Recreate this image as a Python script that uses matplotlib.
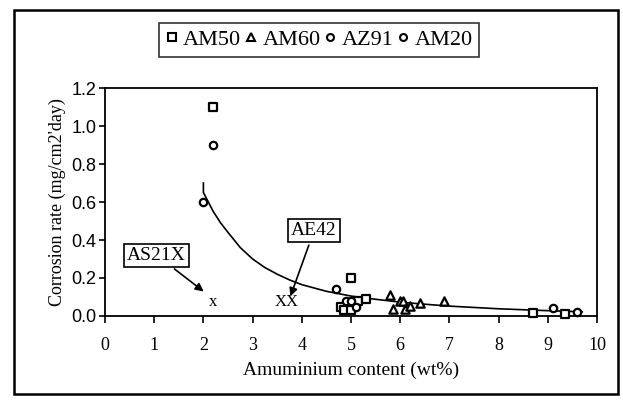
import matplotlib.pyplot as plt
from matplotlib.lines import Line2D
from matplotlib.patches import Rectangle

# corrosion rate (mg/cm2.day) vs aluminium content (wt%)
am50_al = [2.2, 4.8, 4.85, 5.0, 5.0, 5.15, 5.3, 8.7, 9.35]
am50_rate = [1.10, 0.05, 0.03, 0.20, 0.03, 0.08, 0.09, 0.015, 0.01]

am60_al = [5.8, 5.85, 6.0, 6.05, 6.1, 6.2, 6.4, 6.9]
am60_rate = [0.11, 0.035, 0.08, 0.08, 0.035, 0.055, 0.07, 0.08]

az91_al = [4.7, 4.9, 5.0, 5.1, 9.1, 9.6]
az91_rate = [0.14, 0.08, 0.08, 0.045, 0.04, 0.02]

am20_al = [2.0, 2.2]
am20_rate = [0.60, 0.90]

# trend line
fit_al = [2.0, 2.0, 2.1, 2.2, 2.35, 2.5, 2.75, 3.0, 3.25, 3.5, 3.75, 4.0,
          4.5, 5.0, 5.5, 6.0, 6.5, 7.0, 8.0, 9.0, 9.7]
fit_rate = [0.70, 0.65, 0.60, 0.55, 0.49, 0.44, 0.36, 0.30, 0.255, 0.22, 0.19, 0.165,
            0.13, 0.105, 0.088, 0.073, 0.062, 0.052, 0.038, 0.028, 0.022]

# single-point alloys marked with letters
as21x_al, as21x_rate = 2.2, 0.075
ae42_al, ae42_rate = 3.7, 0.075

SERIF = "Liberation Serif"
SANS = "Liberation Sans"

fig = plt.figure(figsize=(6.23, 4.0), dpi=100)
fig.patches.append(Rectangle((14 / 623, 1 - 394 / 400), 604 / 623, 384 / 400,
                             transform=fig.transFigure, fill=False,
                             edgecolor="black", lw=1.8))
ax = fig.add_axes([105 / 623, 1 - 316 / 400, 492 / 623, 228 / 400])

mk = dict(facecolor="white", edgecolor="black", linewidths=1.6, zorder=3, clip_on=False)
ax.scatter(am50_al, am50_rate, marker="s", s=28, **mk)
ax.scatter(am60_al, am60_rate, marker="^", s=36, **mk)
ax.scatter(az91_al, az91_rate, marker="o", s=28, **mk)
ax.scatter(am20_al, am20_rate, marker="o", s=28, **mk)

ax.plot(fit_al, fit_rate, color="black", lw=1.2, zorder=2)

ax.text(as21x_al, as21x_rate, "x", family=SERIF, fontsize=12,
        ha="center", va="center")
ax.text(ae42_al, ae42_rate, "XX", family=SERIF, fontsize=12,
        ha="center", va="center")

box = dict(boxstyle="square,pad=0.15", facecolor="white", edgecolor="black", lw=1.2)
arrow = dict(arrowstyle="-|>", color="black", lw=1.2, mutation_scale=12)
ax.annotate("AS21X", xy=(as21x_al - 0.15, as21x_rate + 0.045), xytext=(1.05, 0.32),
            family=SERIF, fontsize=14, ha="center", va="center",
            bbox=box, arrowprops=arrow)
ax.annotate("AE42", xy=(ae42_al + 0.05, ae42_rate + 0.015), xytext=(4.25, 0.45),
            family=SERIF, fontsize=14, ha="center", va="center",
            bbox=box, arrowprops=arrow)

ax.set_xlim(0, 10)
ax.set_ylim(0, 1.2)
ax.set_xticks(range(0, 11))
ax.set_yticks([0.0, 0.2, 0.4, 0.6, 0.8, 1.0, 1.2])
ax.set_yticklabels(["0.0", "0.2", "0.4", "0.6", "0.8", "1.0", "1.2"])
ax.tick_params(axis="x", direction="out", length=5, width=1.2, labelsize=13, pad=10)
ax.tick_params(axis="y", direction="out", length=4, width=1.2, labelsize=13, pad=2)
for lab in ax.get_xticklabels():
    lab.set_family(SERIF)
for lab in ax.get_yticklabels():
    lab.set_family(SANS)
for sp in ax.spines.values():
    sp.set_linewidth(1.3)

ax.set_xlabel("Amuminium content (wt%)", family=SERIF, fontsize=14, labelpad=6)
ax.set_ylabel("Corrosion rate (mg/cm2'day)", family=SERIF, fontsize=13, labelpad=4)

handles = [
    Line2D([], [], marker="s", ls="none", mfc="white", mec="black", mew=1.5, ms=6),
    Line2D([], [], marker="^", ls="none", mfc="white", mec="black", mew=1.5, ms=6),
    Line2D([], [], marker="o", ls="none", mfc="white", mec="black", mew=1.5, ms=5),
    Line2D([], [], marker="o", ls="none", mfc="white", mec="black", mew=1.5, ms=5),
]
leg = fig.legend(handles, ["AM50", "AM60", "AZ91", "AM20"], loc="center",
                 bbox_to_anchor=(319 / 623, 1 - 40 / 400), ncol=4,
                 prop={"family": SERIF, "size": 16}, frameon=True, fancybox=False,
                 handlelength=0.6, handletextpad=0.2, columnspacing=0.15,
                 borderpad=0.3, borderaxespad=0)
leg.get_frame().set_edgecolor("black")
leg.get_frame().set_linewidth(1.2)

fig.savefig("out.png", dpi=100)
